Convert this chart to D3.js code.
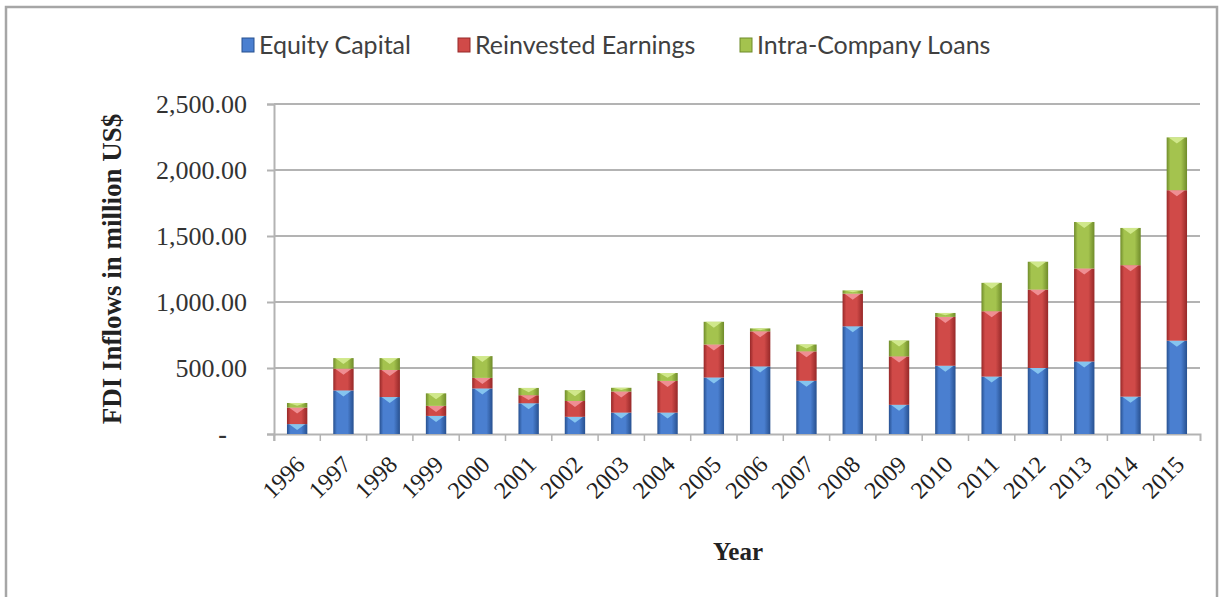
<!DOCTYPE html>
<html>
<head>
<meta charset="utf-8">
<script src="https://cdn.jsdelivr.net/npm/d3@7"></script>
<style>
  body { margin: 0; background: #fff; }
  svg { display: block; }
</style>
</head>
<body>
<div id="chart"></div>
<script>
// data (million US$)
var years = ["1996","1997","1998","1999","2000","2001","2002","2003","2004","2005",
             "2006","2007","2008","2009","2010","2011","2012","2013","2014","2015"];
var equityCapital = [75, 330, 280, 137, 345, 233, 130, 162, 162, 428,
                     512, 403, 816, 221, 517, 435, 500, 549, 283, 707];
var reinvestedEarnings = [125, 165, 205, 76, 80, 61, 120, 160, 240, 250,
                          266, 223, 247, 367, 370, 495, 594, 705, 996, 1140];
var intraCompanyLoans = [35, 80, 90, 95, 165, 55, 82, 28, 60, 172,
                         22, 52, 25, 120, 30, 215, 211, 352, 282, 400];
var seriesNames = ["Equity Capital", "Reinvested Earnings", "Intra-Company Loans"];
var yTicks = [0, 500, 1000, 1500, 2000, 2500];

var W = 1219, H = 597;
var margin = {top: 104, right: 19, bottom: 163, left: 274};
var width = W - margin.left - margin.right,
    height = H - margin.top - margin.bottom;

var svg = d3.select("#chart").append("svg")
    .attr("width", W)
    .attr("height", H);

// outer frame
svg.append("rect")
    .attr("x", 6).attr("y", 7)
    .attr("width", W - 8).attr("height", H + 10)
    .attr("fill", "none")
    .attr("stroke", "#a6a6a6")
    .attr("stroke-width", 2.5);

var colors = [
    {mid: "#4a7fd0", edge: "#27508f", tip: "#8fd0f5"},
    {mid: "#d04a48", edge: "#962828", tip: "#f59aa0"},
    {mid: "#a4c34e", edge: "#6f8b2a", tip: "#d8ef96"}
];

var defs = svg.append("defs");
colors.forEach(function (c, i) {
    var g = defs.append("linearGradient")
        .attr("id", "grad" + i)
        .attr("x1", "0%").attr("x2", "100%")
        .attr("y1", "0%").attr("y2", "0%");
    g.append("stop").attr("offset", "0%").attr("stop-color", c.edge);
    g.append("stop").attr("offset", "18%").attr("stop-color", c.mid);
    g.append("stop").attr("offset", "70%").attr("stop-color", c.mid);
    g.append("stop").attr("offset", "100%").attr("stop-color", c.edge);
});

var chart = svg.append("g")
    .attr("transform", "translate(" + margin.left + "," + margin.top + ")");

var x = d3.scaleBand().domain(years).range([0, width]).paddingInner(0.56).paddingOuter(0.28);
var xTick = d3.scaleBand().domain(years).range([0, width]);
var y = d3.scaleLinear().domain([0, 2500]).range([height, 0]);

// gridlines
chart.append("g")
    .selectAll("line")
    .data(yTicks.slice(1))
    .enter().append("line")
    .attr("x1", 0).attr("x2", width)
    .attr("y1", function (d) { return y(d); })
    .attr("y2", function (d) { return y(d); })
    .attr("stroke", "#b3b3b3")
    .attr("stroke-width", 2);

// y axis
var yAxis = d3.axisLeft(y)
    .tickValues(yTicks)
    .tickSize(7)
    .tickPadding(20)
    .tickFormat(function (d) { return d === 0 ? "-" : d3.format(",.2f")(d); });

var gy = chart.append("g").call(yAxis);
gy.select(".domain").attr("stroke", "#b3b3b3").attr("stroke-width", 2);
gy.selectAll(".tick line").attr("stroke", "#b3b3b3").attr("stroke-width", 2);
gy.selectAll("text")
    .attr("font-family", "Liberation Serif, Times New Roman, serif")
    .attr("font-size", 26)
    .attr("fill", "#333");
gy.selectAll(".tick text")
    .filter(function (d) { return d === 0; })
    .attr("dx", -20)
    .attr("font-weight", "bold");

// x axis
var xAxis = d3.axisBottom(xTick).tickSize(7).tickFormat("");
var gx = chart.append("g")
    .attr("transform", "translate(0," + height + ")")
    .call(xAxis);
gx.select(".domain").attr("stroke", "#b3b3b3").attr("stroke-width", 2);
gx.selectAll(".tick line")
    .attr("stroke", "#b3b3b3").attr("stroke-width", 1.5)
    .attr("transform", "translate(" + (-xTick.bandwidth() / 2) + ",0)");

// year labels, rotated
chart.append("g")
    .selectAll("text")
    .data(years)
    .enter().append("text")
    .attr("transform", function (d) {
        return "translate(" + (xTick(d) + xTick.bandwidth() / 2 + 9) + "," + (height + 32) + ") rotate(-45)";
    })
    .attr("text-anchor", "end")
    .attr("font-family", "Liberation Serif, Times New Roman, serif")
    .attr("font-size", 24)
    .attr("fill", "#222")
    .text(function (d) { return d; });

// stacked bars
var rows = years.map(function (yr, i) {
    return {year: yr, a: equityCapital[i], b: reinvestedEarnings[i], c: intraCompanyLoans[i]};
});
var stack = d3.stack().keys(["a", "b", "c"])(rows);

var layers = chart.selectAll(".layer")
    .data(stack)
    .enter().append("g")
    .attr("class", "layer");

layers.selectAll("rect")
    .data(function (d) { return d; })
    .enter().append("rect")
    .attr("x", function (d) { return x(d.data.year); })
    .attr("y", function (d) { return y(d[1]); })
    .attr("width", x.bandwidth())
    .attr("height", function (d) { return y(d[0]) - y(d[1]); })
    .attr("fill", function (d, i, nodes) {
        var k = stack.indexOf(d3.select(nodes[i].parentNode).datum());
        return "url(#grad" + k + ")";
    });

// light chevron at the top of each segment
layers.each(function (layer, k) {
    d3.select(this).selectAll("path")
        .data(layer)
        .enter().append("path")
        .attr("d", function (d) {
            var x0 = x(d.data.year), bw = x.bandwidth(), top = y(d[1]);
            var h = Math.min(6, (y(d[0]) - top) * 0.6);
            return "M" + (x0 + 2) + "," + top + "L" + (x0 + bw - 2) + "," + top +
                   "L" + (x0 + bw / 2) + "," + (top + h) + "Z";
        })
        .attr("fill", colors[k].tip)
        .attr("opacity", 0.85);
});

// axis titles
svg.append("text")
    .attr("transform", "translate(121," + (margin.top + height / 2 + 0) + ") rotate(-90)")
    .attr("text-anchor", "middle")
    .attr("font-family", "Liberation Serif, Times New Roman, serif")
    .attr("font-weight", "bold")
    .attr("font-size", 27)
    .attr("fill", "#222")
    .text("FDI Inflows in million US$");

svg.append("text")
    .attr("x", 738).attr("y", 560)
    .attr("text-anchor", "middle")
    .attr("font-family", "Liberation Serif, Times New Roman, serif")
    .attr("font-weight", "bold")
    .attr("font-size", 25)
    .attr("fill", "#222")
    .text("Year");

// legend
var legendX = [242, 458, 740];
var legend = svg.append("g").selectAll("g")
    .data(seriesNames)
    .enter().append("g")
    .attr("transform", function (d, i) { return "translate(" + legendX[i] + ",38)"; });

legend.append("rect")
    .attr("width", 12).attr("height", 14)
    .attr("fill", function (d, i) { return colors[i].mid; })
    .attr("stroke", function (d, i) { return colors[i].edge; })
    .attr("stroke-width", 1);

legend.append("text")
    .attr("x", 17).attr("y", 16)
    .attr("font-family", "Lato, sans-serif")
    .attr("font-size", 25)
    .attr("fill", "#404040")
    .text(function (d) { return d; });
</script>
</body>
</html>
